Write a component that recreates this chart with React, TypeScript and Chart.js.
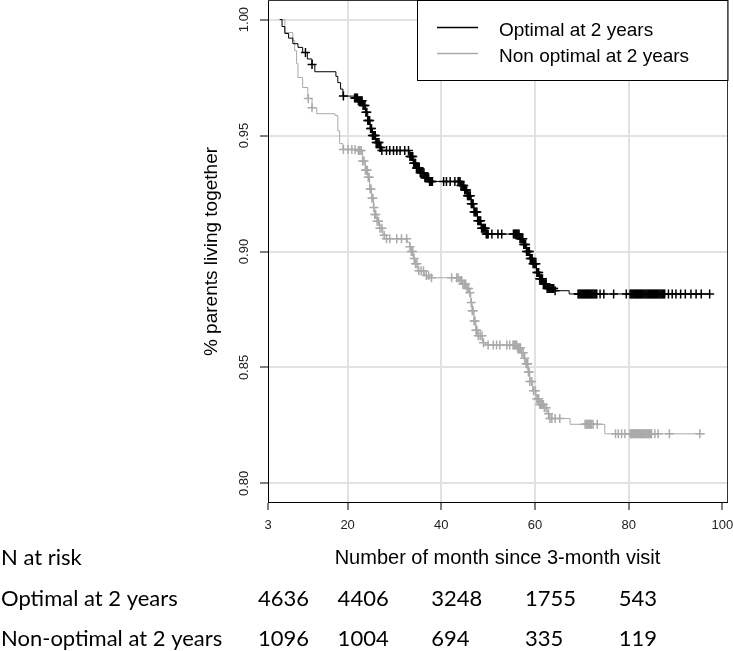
import React, { useEffect, useRef } from 'react';
import { Chart, registerables } from 'chart.js';

Chart.register(...registerables);

// ---- Axis ticks ----
const xTicks = [3, 20, 40, 60, 80, 100];
const yTicks = [0.8, 0.85, 0.9, 0.95, 1.0];

// ---- Series labels ----
const seriesLabels = ['Optimal at 2 years', 'Non optimal at 2 years'];
const seriesColors = ['#000000', '#aaaaaa'];

// ---- Number at risk table ----
const riskTitle = 'N at risk';
const riskRowLabels = ['Optimal at 2 years', 'Non-optimal at 2 years'];
const riskTimes = [3, 20, 40, 60, 80];
const riskOptimal = [4636, 4406, 3248, 1755, 543];
const riskNonOptimal = [1096, 1004, 694, 335, 119];

// ---- Kaplan-Meier curve: Optimal at 2 years ----
const optTimes = [5.5, 6.0, 6.6, 7.4, 8.3, 9.4, 10.4, 11.4, 12.4, 13.0, 17.5, 17.9, 18.5, 19.0, 21.5, 22.3, 23.2, 23.8, 24.3, 24.8, 25.3, 26.0, 26.8, 27.3, 33.3, 34.0, 34.7, 35.5, 36.4, 37.5, 44.2, 44.9, 45.6, 46.4, 47.0, 47.7, 48.5, 49.6, 56.8, 57.5, 58.2, 58.9, 59.6, 60.3, 61.0, 61.8, 62.6, 64.3, 67.3, 97.4];
const optSurv = [1.0, 0.997, 0.994, 0.992, 0.9896, 0.988, 0.9858, 0.983, 0.9806, 0.9775, 0.9755, 0.9728, 0.970, 0.967, 0.9662, 0.965, 0.963, 0.960, 0.9565, 0.953, 0.950, 0.947, 0.9448, 0.9435, 0.941, 0.938, 0.936, 0.934, 0.9318, 0.9302, 0.9285, 0.9265, 0.924, 0.9206, 0.917, 0.9133, 0.910, 0.9075, 0.9055, 0.903, 0.900, 0.897, 0.8947, 0.891, 0.8883, 0.886, 0.884, 0.8831, 0.8817, 0.8817];
const optCensor = [
  11.0, 12.4, 19.1,
  21.5, 21.7, 21.9, 22.1, 22.3, 22.5, 22.7, 22.9, 23.1, 23.3, 23.5, 23.7, 23.9, 24.1, 24.3, 24.5, 24.7, 24.9, 25.1, 25.3, 25.5, 25.7, 25.9, 26.1, 26.3, 26.5, 26.7, 26.9, 27.1, 27.3,
  28.3, 29.0, 29.8, 30.5, 31.2, 32.2, 33.0,
  33.3, 33.5, 33.7, 33.9, 34.1, 34.3, 34.5, 34.7, 34.9, 35.1, 35.3, 35.5, 35.7, 35.9, 36.1, 36.3, 36.5, 36.7, 36.9, 37.1, 37.3, 37.5, 37.7, 37.9, 38.1,
  40.5, 41.1, 41.9, 42.9,
  43.6, 43.8, 44.0, 44.2, 44.4, 44.6, 44.8, 45.0, 45.2, 45.4, 45.6, 45.8, 46.0, 46.2, 46.4, 46.6, 46.8, 47.0, 47.2, 47.4, 47.6, 47.8, 48.0, 48.2, 48.4, 48.6, 48.8, 49.0, 49.2, 49.4, 49.6, 49.8, 50.0,
  50.8, 52.1, 52.9,
  55.4, 55.6, 55.8, 56.0, 56.2, 56.4, 56.6, 56.8, 57.0, 57.2, 57.4, 57.6, 57.8, 58.0, 58.2, 58.4, 58.6, 58.8, 59.0, 59.2, 59.4, 59.6, 59.8, 60.0, 60.2, 60.4, 60.6, 60.8, 61.0, 61.2, 61.4, 61.6, 61.8, 62.0, 62.2, 62.4, 62.6, 62.8, 63.0, 63.2, 63.4, 63.6, 63.8, 64.0, 64.3,
  69.2, 69.4, 69.6, 69.8, 70.0, 70.2, 70.4, 70.6, 70.8, 71.0, 71.2, 71.4, 71.6, 71.8, 72.0, 72.2, 72.4, 72.6, 72.8, 73.0, 73.2,
  73.9, 74.7, 76.8, 79.5,
  80.3, 80.5, 80.7, 80.9, 81.1, 81.3, 81.5, 81.7, 81.9, 82.1, 82.3, 82.5, 82.7, 82.9, 83.1, 83.3, 83.5, 83.7, 83.9, 84.1, 84.3, 84.5, 84.7, 84.9, 85.1, 85.3, 85.5, 85.7, 85.9, 86.1, 86.3, 86.5, 86.7, 86.9, 87.1, 87.3, 87.5, 87.7,
  88.5, 89.3, 90.1, 91.1, 92.1, 93.3, 94.4, 95.5, 97.3,
];

// ---- Kaplan-Meier curve: Non optimal at 2 years ----
const nonTimes = [5.5, 6.6, 8.3, 8.7, 9.1, 9.4, 10.4, 11.5, 12.4, 13.4, 17.3, 17.9, 18.3, 19.0, 22.1, 23.2, 23.8, 24.3, 24.7, 25.1, 25.5, 25.8, 26.3, 26.8, 27.5, 28.3, 32.8, 33.3, 33.6, 34.0, 34.3, 35.0, 36.4, 37.5, 44.0, 44.5, 45.3, 46.0, 46.3, 46.6, 47.0, 47.4, 47.7, 48.8, 49.5, 56.3, 57.0, 57.6, 58.1, 58.5, 58.9, 59.5, 60.2, 61.0, 61.9, 62.6, 63.0, 67.5, 74.9, 96.3];
const nonSurv = [1.0, 0.9944, 0.991, 0.9866, 0.981, 0.975, 0.9707, 0.966, 0.962, 0.9594, 0.9586, 0.952, 0.9465, 0.944, 0.9435, 0.939, 0.935, 0.932, 0.927, 0.923, 0.919, 0.916, 0.913, 0.910, 0.907, 0.9055, 0.904, 0.902, 0.900, 0.897, 0.8947, 0.8917, 0.8896, 0.8887, 0.8875, 0.886, 0.884, 0.8822, 0.878, 0.8745, 0.870, 0.866, 0.8637, 0.8607, 0.8597, 0.8585, 0.8563, 0.854, 0.8516, 0.848, 0.844, 0.840, 0.8365, 0.834, 0.8326, 0.830, 0.828, 0.8255, 0.8214, 0.8214];
const nonCensor = [
  11.6, 12.4, 19.1, 20.1, 20.9, 21.6, 22.3,
  22.6, 22.9, 23.2, 23.5, 23.8, 24.0, 24.2, 24.4, 24.6, 24.8, 25.0, 25.2, 25.4, 25.6, 25.8, 26.0, 26.3, 26.6, 26.9, 27.3, 27.8,
  28.3, 29.0, 30.5, 31.5, 32.6, 33.3,
  33.6, 33.9, 34.2, 34.5, 34.8, 35.2, 35.7, 36.2, 36.8, 37.3, 37.9, 42.2, 43.3, 43.6,
  44.0, 44.3, 44.6, 44.9, 45.2, 45.5, 45.8, 46.1, 46.4, 46.6, 46.8, 47.0, 47.2, 47.4, 47.6, 47.9, 48.3, 48.7,
  49.0, 50.0, 51.1, 51.8, 52.5, 54.0, 54.6,
  55.3, 55.5, 55.7, 55.9, 56.1, 56.3, 56.5, 56.7, 56.9, 57.2, 57.5, 57.8, 58.1, 58.3, 58.45, 58.6, 58.75, 58.9,
  59.3, 59.7, 60.1, 60.4, 60.6, 60.8, 61.0, 61.2, 61.4, 61.6, 61.8, 62.0, 62.4, 62.9,
  63.2, 63.6, 64.3, 65.3,
  70.7, 70.9, 71.1, 71.3, 71.5, 71.7, 71.9, 72.1, 72.4, 73.3,
  77.2, 77.8, 78.5, 79.2,
  80.3, 80.5, 80.7, 80.9, 81.1, 81.3, 81.5, 81.7, 81.9, 82.1, 82.3, 82.5, 82.7, 82.9, 83.1, 83.3, 83.5, 83.7, 83.9, 84.1, 84.3, 84.5, 84.7, 84.9,
  85.6, 86.3, 88.7, 95.2,
];

function survAt(times: number[], surv: number[], t: number): number {
  let s = surv[0];
  for (let i = 0; i < times.length; i++) {
    if (times[i] <= t) s = surv[i];
  }
  return s;
}

const SANS = 'Arial, "Liberation Sans", sans-serif';
const TICK_FONT = { family: SANS, size: 13 };

const decorPlugin = {
  id: 'decor',
  afterDraw(chart: any) {
    const { ctx, chartArea: a, scales } = chart;
    const xs = scales.x;
    ctx.save();
    // top & right frame
    ctx.strokeStyle = '#333';
    ctx.lineWidth = 1;
    ctx.beginPath();
    ctx.moveTo(a.left, a.top - 0.5);
    ctx.lineTo(a.right + 0.5, a.top - 0.5);
    ctx.lineTo(a.right + 0.5, a.bottom);
    ctx.stroke();

    // legend box
    const bx = a.right - 310;
    const by = a.top - 0.5;
    const bw = 310.5;
    const bh = 80;
    ctx.fillStyle = '#fff';
    ctx.fillRect(bx, by, bw, bh);
    ctx.strokeStyle = '#000';
    ctx.strokeRect(bx + 0.5, by, bw, bh);
    ctx.font = '19px ' + SANS;
    ctx.textBaseline = 'alphabetic';
    ctx.textAlign = 'left';
    const ds = chart.data.datasets;
    [0, 2].forEach((di, i) => {
      const ly = a.top + 26.5 + i * 26;
      ctx.strokeStyle = ds[di].borderColor;
      ctx.lineWidth = 1.5;
      ctx.beginPath();
      ctx.moveTo(bx + 20, ly);
      ctx.lineTo(bx + 61, ly);
      ctx.stroke();
      ctx.fillStyle = '#000';
      ctx.fillText(ds[di].label, bx + 82, ly + 8);
    });

    // number at risk table
    ctx.font = '22px Lato, "Open Sans", sans-serif';
    ctx.fillStyle = '#000';
    ctx.textAlign = 'left';
    ctx.textBaseline = 'alphabetic';
    ctx.fillText(riskTitle, 1, 565);
    const rows = [riskOptimal, riskNonOptimal];
    rows.forEach((row, r) => {
      const base = 606 + r * 40;
      ctx.fillText(riskRowLabels[r], 1, base);
      row.forEach((n, i) => {
        const px = xs.getPixelForValue(riskTimes[i]) - 10;
        ctx.fillText(String(n), px, base);
      });
    });
    ctx.restore();
  },
};

export default function App() {
  const canvasRef = useRef<HTMLCanvasElement | null>(null);

  useEffect(() => {
    const canvas = canvasRef.current;
    if (!canvas) return;
    const curve = (times: number[], surv: number[]) => times.map((t, i) => ({ x: t, y: surv[i] }));
    const marks = (cens: number[], times: number[], surv: number[]) =>
      cens.map((t) => ({ x: t, y: survAt(times, surv, t) }));

    const censorStyle = (color: string) => ({
      showLine: false,
      pointStyle: 'cross',
      pointRadius: 4.5,
      pointBorderWidth: 1.5,
      pointBorderColor: color,
      borderColor: color,
    });

    const chart = new Chart(canvas, {
      type: 'line',
      data: {
        datasets: [
          {
            label: seriesLabels[0],
            data: curve(optTimes, optSurv),
            borderColor: seriesColors[0],
            borderWidth: 1,
            stepped: 'before',
            pointRadius: 0,
            fill: false,
          },
          {
            label: 'censored (optimal)',
            data: marks(optCensor, optTimes, optSurv),
            ...censorStyle(seriesColors[0]),
          },
          {
            label: seriesLabels[1],
            data: curve(nonTimes, nonSurv),
            borderColor: seriesColors[1],
            borderWidth: 1,
            stepped: 'before',
            pointRadius: 0,
            fill: false,
          },
          {
            label: 'censored (non optimal)',
            data: marks(nonCensor, nonTimes, nonSurv),
            ...censorStyle(seriesColors[1]),
          },
        ],
      },
      options: {
        responsive: false,
        animation: false,
        events: [],
        layout: { autoPadding: false, padding: { top: 1, right: 6, bottom: 0, left: 0 } },
        plugins: { legend: { display: false }, tooltip: { enabled: false } },
        scales: {
          x: {
            type: 'linear',
            min: 3,
            max: 101,
            afterBuildTicks: (s: any) => {
              s.ticks = xTicks.map((v) => ({ value: v }));
            },
            afterFit: (s: any) => {
              s.height = 149;
              s.paddingLeft = 0;
              s.paddingRight = 0;
            },
            ticks: {
              autoSkip: false,
              maxRotation: 0,
              minRotation: 0,
              padding: 8,
              color: '#222',
              font: TICK_FONT,
              callback: (v: any) => String(v),
            },
            grid: {
              color: (c: any) => (c.tick && (c.tick.value === 3 || c.tick.value === 100) ? 'rgba(0,0,0,0)' : '#e2e2e2'),
              lineWidth: 2,
              drawTicks: true,
              tickLength: 8,
              tickColor: '#000',
              tickWidth: 1,
            },
            border: { display: true, color: '#000', width: 1 },
            title: {
              display: true,
              text: 'Number of month since 3-month visit',
              color: '#000',
              font: { family: SANS, size: 20, lineHeight: 1.2 },
              padding: { top: 0, bottom: 81 },
            },
          },
          y: {
            type: 'linear',
            min: 0.792,
            max: 1.008,
            afterBuildTicks: (s: any) => {
              s.ticks = yTicks.map((v) => ({ value: v }));
            },
            afterFit: (s: any) => {
              s.width = 268;
              s.paddingTop = 0;
              s.paddingBottom = 0;
            },
            ticks: {
              autoSkip: false,
              minRotation: 90,
              maxRotation: 90,
              crossAlign: 'center',
              padding: 3,
              color: '#222',
              font: TICK_FONT,
              callback: (v: any) => Number(v).toFixed(2),
            },
            grid: {
              color: '#e2e2e2',
              lineWidth: 2,
              drawTicks: true,
              tickLength: 8,
              tickColor: '#000',
              tickWidth: 1,
            },
            border: { display: true, color: '#000', width: 1 },
            title: {
              display: true,
              text: '% parents living together',
              color: '#000',
              font: { family: SANS, size: 19, lineHeight: 1.2 },
              padding: { top: 200, bottom: 0 },
            },
          },
        },
      },
      plugins: [decorPlugin],
    } as any);

    return () => chart.destroy();
  }, []);

  return (
    <div style={{ position: 'absolute', left: 0, top: 0, width: 733, height: 651, background: '#fff' }}>
      <canvas ref={canvasRef} width={733} height={651} style={{ display: 'block' }} />
    </div>
  );
}
